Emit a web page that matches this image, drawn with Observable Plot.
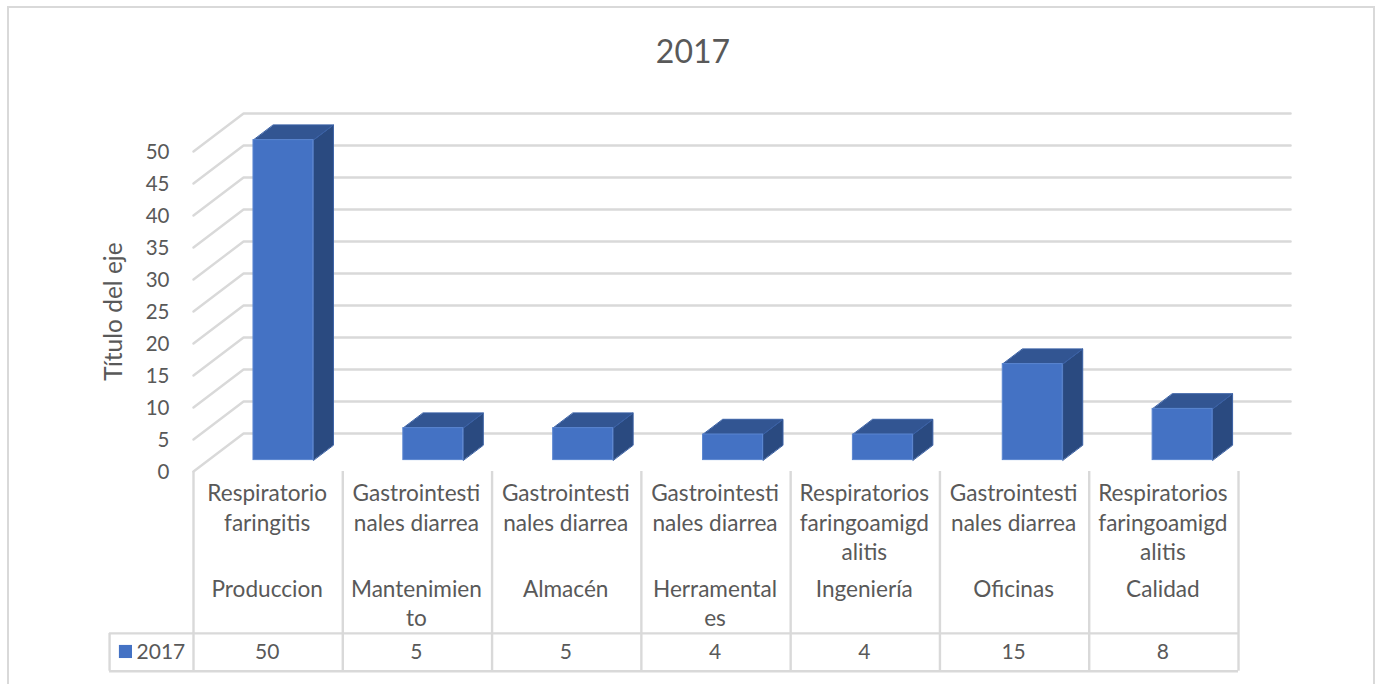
<!DOCTYPE html>
<html>
<head>
<meta charset="utf-8">
<script src="https://cdn.jsdelivr.net/npm/d3@7"></script>
<script src="https://cdn.jsdelivr.net/npm/@observablehq/plot@0.6"></script>
<style>
  html, body { margin: 0; padding: 0; background: #fff; overflow: hidden; }
  #frame { position: absolute; left: 7px; top: 6px; width: 1368px; height: 700px; border: 2px solid #d9d9d9; box-sizing: border-box; }
  #chart { position: absolute; left: 0; top: 0; width: 1378px; height: 684px; }
  svg { overflow: visible; background: transparent !important; }
</style>
</head>
<body>
<div id="frame"></div>
<div id="chart"></div>
<script>
const diseases = [
  "Respiratorio\nfaringitis",
  "Gastrointesti\nnales diarrea",
  "Gastrointesti\nnales diarrea",
  "Gastrointesti\nnales diarrea",
  "Respiratorios\nfaringoamigd\nalitis",
  "Gastrointesti\nnales diarrea",
  "Respiratorios\nfaringoamigd\nalitis"
];
const areas = ["Produccion", "Mantenimien\nto", "Almacén", "Herramental\nes", "Ingeniería", "Oficinas", "Calidad"];
const values = [50, 5, 5, 4, 4, 15, 8];
const yTicks = [0, 5, 10, 15, 20, 25, 30, 35, 40, 45, 50];
const seriesName = "2017";
const axisTitle = "Título del eje";

// 3D projection in data units: depth 0..1 moves right and upward
const depthX = 0.334, depthY = 5.94;
const barFront = 0.3, barBack = 0.7, barGap = 0.3;
const proj = (x, v, d) => ({x: x + d * depthX, y: v + d * depthY});

const rows = values.map((v, i) => ({i, v, disease: diseases[i], area: areas[i]}));

const sideFaces = rows.flatMap(({i, v}) => {
  const r = i + 1 - barGap;
  return [proj(r, 0, barFront), proj(r, v, barFront), proj(r, v, barBack), proj(r, 0, barBack)].map(p => ({...p, i}));
});
const topFaces = rows.flatMap(({i, v}) => {
  const l = i + barGap, r = i + 1 - barGap;
  return [proj(l, v, barFront), proj(r, v, barFront), proj(r, v, barBack), proj(l, v, barBack)].map(p => ({...p, i}));
});
const wallEnd = 6.987;
const gridLines = yTicks.flatMap(t => [proj(0, t, 0), proj(0, t, 1), proj(wallEnd, t, 1)].map(p => ({...p, t})));

// table layout: its columns are slightly narrower than the bar slots
const tableStep = 0.9962;
const tableTop = -25.3, tableBottom = -31.2, tableLeft = -0.56;
const grey = "#d9d9d9", ink = "#595959", font = "Lato, Carlito, sans-serif";
const txt = {fontFamily: font, fontSize: 22.6, fill: ink, lineHeight: 1.305};
const num = {fontFamily: font, fontSize: 21, fill: ink};

const plot = Plot.plot({
  width: 1378, height: 684,
  marginLeft: 175, marginRight: 0, marginTop: 0, marginBottom: 0,
  x: {type: "linear", domain: [0, 7], range: [193, 1242], axis: null},
  y: {type: "linear", domain: [0, 50], range: [471, 151], axis: null},
  style: {background: "transparent"},
  marks: [
    Plot.line(gridLines, {x: "x", y: "y", z: "t", stroke: grey, strokeWidth: 2.4}),
    Plot.axisY(yTicks, {anchor: "left", tickSize: 0, tickPadding: 6, dy: 1, label: null, fontFamily: font, fontSize: 20.5, color: ink, tickFormat: d => d}),
    Plot.text([axisTitle], {x: () => -0.53, y: () => 25.0, rotate: -90, fontFamily: font, fill: ink, fontSize: 24.5}),
    Plot.text([seriesName], {x: () => 3.333, y: () => 65.5, fontFamily: font, fill: ink, fontSize: 32}),

    Plot.line(sideFaces, {x: "x", y: "y", z: "i", curve: "linear-closed", fill: "#2a4a80", stroke: "#3a60a4", strokeWidth: 1}),
    Plot.line(topFaces, {x: "x", y: "y", z: "i", curve: "linear-closed", fill: "#325592", stroke: "#3a61a6", strokeWidth: 1}),
    Plot.rect(rows, {
      x1: d => proj(d.i + barGap, 0, barFront).x,
      x2: d => proj(d.i + 1 - barGap, 0, barFront).x,
      y1: () => proj(0, 0, barFront).y,
      y2: d => proj(0, d.v, barFront).y,
      fill: "#4472c4", stroke: "#5b86d0", strokeWidth: 1
    }),

    Plot.ruleX(d3.range(8), {x: d => d * tableStep, y1: 0, y2: tableBottom, stroke: grey, strokeWidth: 2.4}),
    Plot.ruleX([tableLeft], {y1: tableTop, y2: tableBottom, stroke: grey, strokeWidth: 2.4}),
    Plot.ruleY([tableTop, tableBottom], {x1: tableLeft, x2: 7 * tableStep, stroke: grey, strokeWidth: 2.4}),

    Plot.text(rows, {x: d => (d.i + 0.5) * tableStep, y: () => 0, text: "disease", lineAnchor: "top", dy: 8.6, dx: -1, ...txt}),
    Plot.text(rows, {x: d => (d.i + 0.5) * tableStep, y: () => 0, text: "area", lineAnchor: "top", dy: 104.2, dx: -1, ...txt}),
    Plot.text(rows, {x: d => (d.i + 0.5) * tableStep, y: () => tableBottom, text: d => String(d.v), lineAnchor: "middle", dy: -18.5, dx: -1, ...num}),

    Plot.dot([seriesName], {x: () => -0.454, y: () => tableBottom, symbol: "square", r: 7.4, fill: "#4472c4", dy: -19.7}),
    Plot.text([seriesName], {x: () => -0.38, y: () => tableBottom, textAnchor: "start", lineAnchor: "middle", dy: -18.5, ...num})
  ]
});
document.getElementById("chart").append(plot);
</script>
</body>
</html>
